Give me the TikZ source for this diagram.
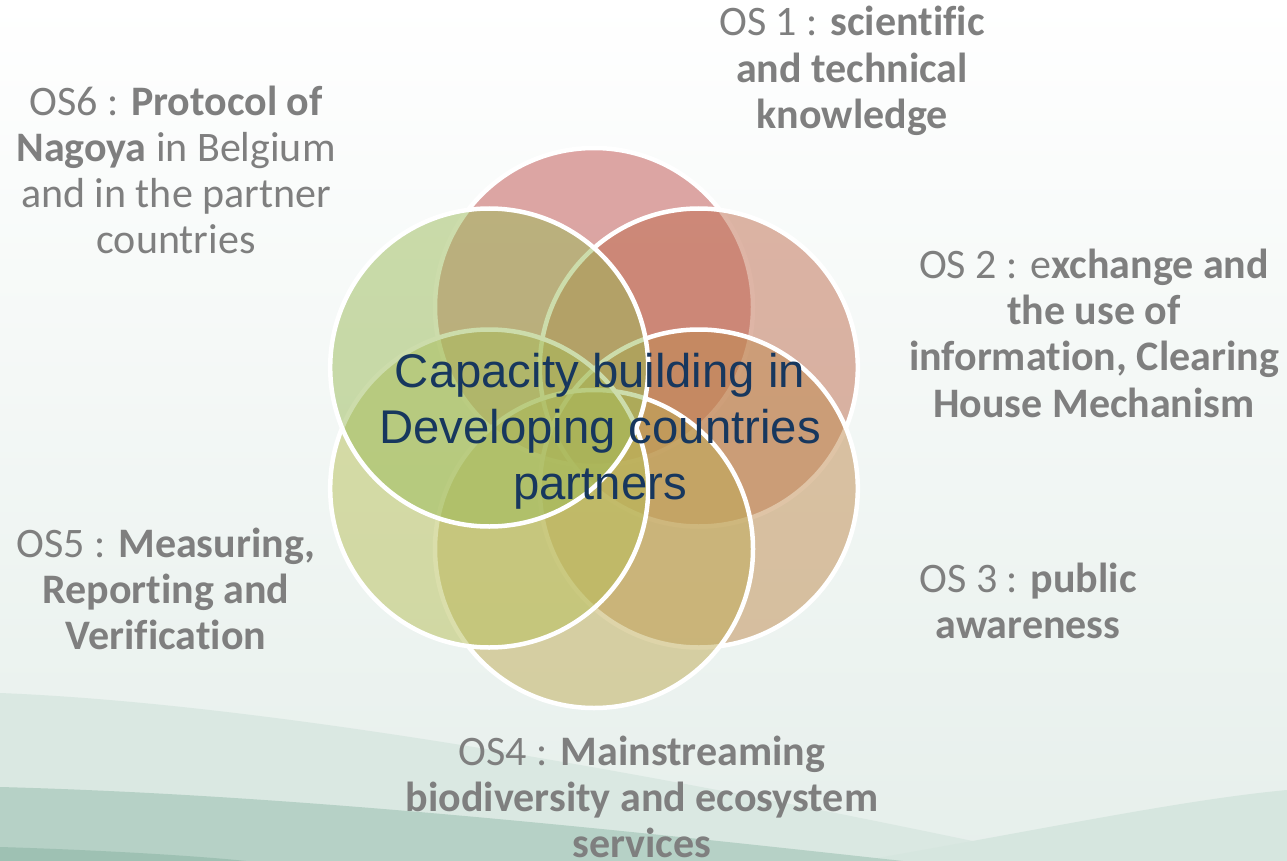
\documentclass[tikz,border=0pt]{standalone}
\usepackage{fontspec}
\setmainfont{Carlito}[Ligatures=NoCommon]
\newfontfamily\arialf{Liberation Sans}
\definecolor{labelgray}{HTML}{7F7F7F}
\definecolor{navy}{HTML}{17375E}
\definecolor{cA}{HTML}{C0504D}
\definecolor{cB}{HTML}{BF6C4E}
\definecolor{cC}{HTML}{C08B4F}
\definecolor{cD}{HTML}{BFAB55}
\definecolor{cE}{HTML}{B7BF58}
\definecolor{cF}{HTML}{9BBB59}
\definecolor{bgmid}{HTML}{F7F9F8}
\definecolor{bgbot}{HTML}{E6EFEB}
\definecolor{waveA}{HTML}{DAE8E2}
\definecolor{waveB}{HTML}{B6D1C6}
\definecolor{waveC}{HTML}{9EC1B3}
\definecolor{waveR}{HTML}{D6E6DF}
\begin{document}
\begin{tikzpicture}[x=1pt,y=-1pt,
  petal/.style={circle, minimum size=318pt, inner sep=0pt, draw=white, line width=4.5pt, fill opacity=0.5, draw opacity=1},
  lbl/.style={anchor=base, align=center, text=labelgray, inner sep=0pt, font=\fontsize{42}{46.3}\selectfont},
  core/.style={anchor=base, align=center, text=navy, inner sep=0pt, font=\arialf\fontsize{47.3}{56}\selectfont}]
\useasboundingbox (0,0) rectangle (1287,861);
% background
\shade[top color=white, middle color=bgmid, bottom color=bgbot] (0,0) rectangle (1287,861);
\fill[waveA] (0,693) .. controls (250,703) and (620,765) .. (1067,861) -- (0,861) -- cycle;
\fill[waveR] (860,861) .. controls (1040,830) and (1180,800) .. (1287,790) -- (1287,861) -- cycle;
\fill[waveB] (0,787) .. controls (300,795) and (620,830) .. (903,861) -- (0,861) -- cycle;
\fill[waveC] (0,847) .. controls (100,850) and (200,856) .. (246,861) -- (0,861) -- cycle;
% petals
\node[petal, fill=cA] (p1) at (594,307) {};
\node[petal, fill=cB] (p2) at (698.8,367.5) {};
\node[petal, fill=cC] (p3) at (698.8,488.5) {};
\node[petal, fill=cD] (p4) at (594,549) {};
\node[petal, fill=cE] (p5) at (489.2,488.5) {};
\node[petal, fill=cF] (p6) at (489.2,367.5) {};
% centre text (anchor = baseline of last line)
\node[core] (centre) at (600,499) {Capacity building in\\Developing countries\\partners};
% labels (anchor = baseline of last line)
\node[lbl] (os1) at (852,128.6) {OS 1 : \textbf{scientific}\\\textbf{and technical}\\\textbf{knowledge}};
\node[lbl] (os2) at (1094,417) {OS 2 : e\textbf{xchange and}\\\textbf{the use of}\\\textbf{information, Clearing}\\\textbf{House Mechanism}};
\node[lbl] (os3) at (1028,638.3) {OS 3 : \textbf{public}\\\textbf{awareness}};
\node[lbl] (os4) at (642,857.6) {OS4 : \textbf{Mainstreaming}\\\textbf{biodiversity and ecosystem}\\\textbf{services}};
\node[lbl] (os5) at (166,649.6) {OS5 : \textbf{Measuring,}\\\textbf{Reporting and}\\\textbf{Verification}};
\node[lbl] (os6) at (176,253.9) {OS6 : \textbf{Protocol of}\\\textbf{Nagoya} in Belgium\\and in the partner\\countries};
\end{tikzpicture}
\end{document}
